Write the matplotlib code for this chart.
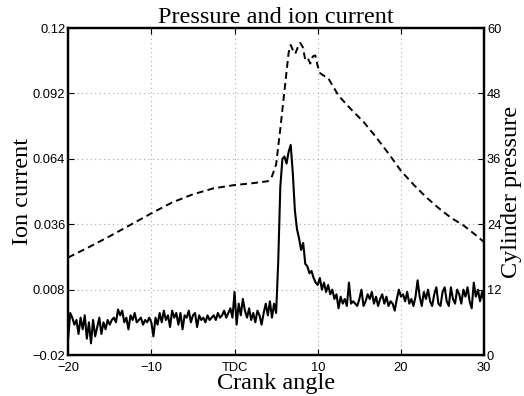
import numpy as np
import matplotlib
matplotlib.use("Agg")
import matplotlib.pyplot as plt

# ion current, sampled every 0.25 deg from -20 to 30
ion_current = [
    -0.013, -0.002, -0.004, -0.007, -0.005, -0.011, -0.004, -0.009, -0.003, -0.013,
    -0.006, -0.015, -0.005, -0.012, -0.008, -0.004, -0.011, -0.006, -0.009, -0.005,
    -0.007,
    -0.005, -0.004, -0.006, -0.0005, -0.003, -0.001, -0.006, -0.004, -0.009, -0.003,
    -0.005, -0.002, -0.006, -0.005, -0.004, -0.007, -0.005, -0.006, -0.004, -0.006,
    -0.012, -0.004, -0.007, -0.002, -0.006, -0.001, -0.005, -0.003, -0.008, -0.001,
    -0.004, -0.002, -0.007, -0.002, -0.009, -0.003, -0.004, -0.001, -0.006, -0.003,
    -0.002, -0.008, -0.003, -0.005, -0.004, -0.006, -0.003, -0.005, -0.004, -0.003,
    -0.005, -0.002, -0.004, -0.003, -0.001, -0.004, -0.002, 0.000, -0.004, 0.007,
    -0.007, 0.002, -0.003, 0.004, -0.001, -0.004, 0.000, -0.005, -0.002, -0.006,
    -0.001, -0.003, -0.007, -0.002, 0.002, -0.003, 0.003, -0.004, 0.002, -0.002,
    0.020, 0.052, 0.064, 0.065, 0.062, 0.067, 0.070, 0.058, 0.042, 0.034,
    0.030, 0.025, 0.028, 0.019, 0.018, 0.015, 0.016, 0.013, 0.011, 0.010,
    0.013, 0.008, 0.011, 0.007, 0.010, 0.006, 0.008, 0.004,
    0.006, 0.000, 0.005, 0.002, 0.004, 0.001, 0.011, 0.002, 0.003, 0.002,
    0.001, 0.004, 0.008, 0.001, 0.003, 0.006, 0.004, 0.007, 0.002, 0.005,
    0.001, 0.004, 0.006, 0.002, 0.005, 0.001, 0.003, 0.002, -0.001, 0.004,
    0.008, 0.005, 0.006, 0.003, 0.007, 0.002, 0.004, 0.001, 0.005, 0.012,
    0.005, 0.001, 0.007, 0.004, 0.008, 0.003, 0.001, 0.006, 0.009, 0.002,
    0.001, 0.007, 0.009, 0.003, 0.001, 0.009, 0.004, 0.002, 0.008, 0.006,
    0.002, 0.008, 0.005, 0.009, 0.003, 0.000, 0.011, 0.005, 0.008, 0.003,
    0.007, 0.003,
]
ion_angle = np.linspace(-20, 30, len(ion_current))

pressure_angle = [-20, -17.5, -15, -12.5, -10, -7.5, -5, -2.5, 0, 2, 4, 4.5, 5, 5.5,
                  6, 6.5, 6.75, 7, 7.3, 7.6, 7.9, 8.2, 8.5, 8.8, 9.1, 9.4, 9.7, 10.0,
                  10.3, 10.8, 11.3, 12.5, 14, 15.5, 17, 18.5, 20, 21.5, 23, 24.5, 26,
                  27.5, 29, 30]
pressure = [17.9, 19.8, 21.8, 23.9, 26.0, 28.0, 29.5, 30.6, 31.2, 31.5, 31.9, 32.8,
            35.0, 41.5, 48.5, 55.5, 56.9, 56.0, 55.3, 56.5, 57.3, 56.5, 54.2, 54.5,
            53.5, 54.8, 55.0, 53.0, 51.7, 51.2, 50.7, 47.6, 45.1, 42.8, 40.0, 37.0,
            33.8, 31.3, 29.0, 27.0, 25.2, 23.8, 22.0, 20.7]

xticks = [-20, -10, 0, 10, 20, 30]
xticklabels = ["\u221220", "\u221210", "TDC", "10", "20", "30"]
left_ticks = [-0.02, 0.008, 0.036, 0.064, 0.092, 0.12]
left_labels = ["\u22120.02", "0.008", "0.036", "0.064", "0.092", "0.12"]
right_ticks = [0, 12, 24, 36, 48, 60]

sans = "Liberation Sans"
serif = "Liberation Serif"

fig = plt.figure(figsize=(5.24, 3.96), dpi=100)
ax = fig.add_axes([0.130, 0.1035, 0.794, 0.8255])
ax2 = ax.twinx()

ax.plot(ion_angle, ion_current, color="black", lw=1.5)
ax2.plot(pressure_angle, pressure, color="black", lw=1.4, dashes=(3.5, 2.2))

ax.set_xlim(-20, 30)
ax.set_ylim(-0.02, 0.12)
ax2.set_ylim(0, 60)

ax.set_xticks(xticks)
ax.set_xticklabels(xticklabels, family=sans, fontsize=9.3)
ax.set_yticks(left_ticks)
ax.set_yticklabels(left_labels, family=sans, fontsize=9.3)
ax2.set_yticks(right_ticks)
ax2.set_yticklabels([str(t) for t in right_ticks], family=sans, fontsize=9.3)

ax.grid(True, color="#aaaaaa", linestyle=(0, (1, 3)), lw=0.8)
ax.tick_params(axis="y", direction="in", length=4, width=0.8, pad=2)
ax.tick_params(axis="x", direction="in", length=4, width=0.8, pad=5, top=True)
ax2.tick_params(direction="in", length=4, width=0.8, pad=2)
for a in (ax, ax2):
    for s in a.spines.values():
        s.set_linewidth(1.6)

ax.set_title("Pressure and ion current", family=serif, fontsize=17.5, pad=1)
ax.set_xlabel("Crank angle", family=serif, fontsize=17.5, labelpad=-1)
ax.set_ylabel("Ion current", family=serif, fontsize=17.5, labelpad=0)
ax2.set_ylabel("Cylinder pressure", family=serif, fontsize=17.5, labelpad=0)

fig.savefig("out.png", dpi=100)
